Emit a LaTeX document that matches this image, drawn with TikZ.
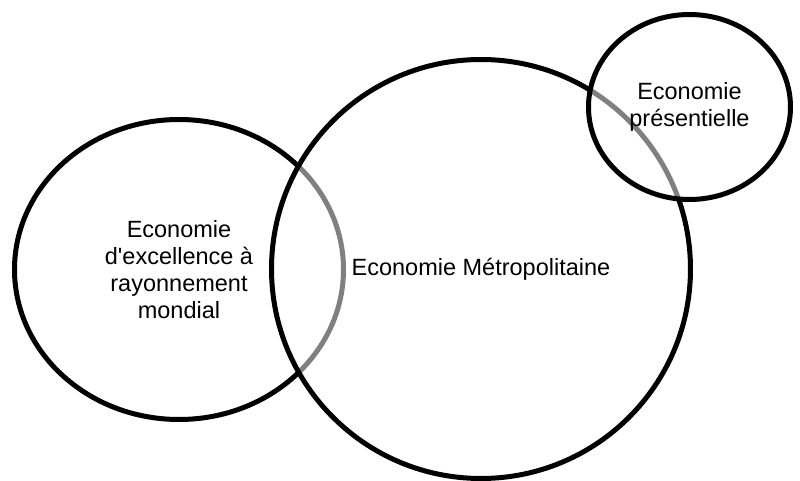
\documentclass[tikz,border=0pt]{standalone}
\usepackage{fontspec}
\setmainfont{Liberation Sans}
\usetikzlibrary{shapes.geometric}
\tikzset{
  venn/.style={ellipse, draw=black, line width=2.5pt, fill=white, fill opacity=0.5,
    text opacity=1, draw opacity=1, inner sep=0pt, align=center,
    font=\fontsize{11.75}{13.5}\selectfont}
}
\begin{document}
\begin{tikzpicture}[x=0.5pt, y=-0.5pt]
\useasboundingbox (0,0) rectangle (800,481);
\node[venn, minimum width=329pt*0.5, minimum height=300pt*0.5] (exc) at (179,269.5)
  {Economie\\d\textquotesingle excellence à\\rayonnement\\mondial};
\node[venn, minimum width=419pt*0.5, minimum height=419pt*0.5] (met) at (481,269)
  {Economie Métropolitaine};
\node[venn, minimum width=202pt*0.5, minimum height=185pt*0.5] (pres) at (689.5,107)
  {Economie\\présentielle};
\end{tikzpicture}
\end{document}
